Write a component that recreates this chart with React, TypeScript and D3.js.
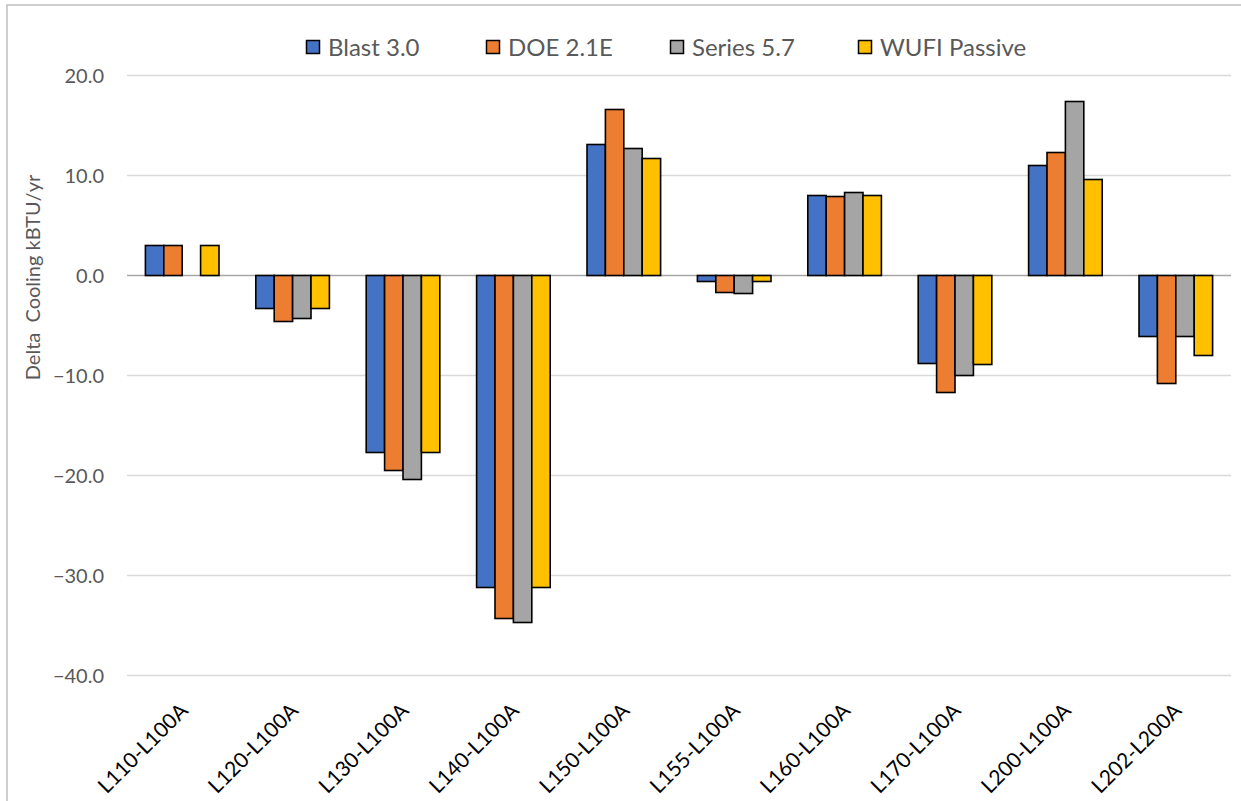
import React from "react";
import * as d3 from "d3";

// Test-case categories (difference cases) on the x axis
const categories = [
  "L110-L100A",
  "L120-L100A",
  "L130-L100A",
  "L140-L100A",
  "L150-L100A",
  "L155-L100A",
  "L160-L100A",
  "L170-L100A",
  "L200-L100A",
  "L202-L200A",
];

const seriesNames = ["Blast 3.0", "DOE 2.1E", "Series 5.7", "WUFI Passive"];
const seriesColors = ["#4472C4", "#ED7D31", "#A5A5A5", "#FFC000"];

// Delta cooling values (kBTU/yr) per program
const blast = [3.0, -3.3, -17.7, -31.2, 13.1, -0.6, 8.0, -8.8, 11.0, -6.1];
const doe = [3.0, -4.6, -19.5, -34.3, 16.6, -1.7, 7.9, -11.7, 12.3, -10.8];
const series57: (number | null)[] = [null, -4.3, -20.4, -34.7, 12.7, -1.8, 8.3, -10.0, 17.4, -6.1];
const wufi = [3.0, -3.3, -17.7, -31.2, 11.7, -0.6, 8.0, -8.9, 9.6, -8.0];

const yTicks = [20, 10, 0, -10, -20, -30, -40];

const W = 1241;
const H = 801;
const FONT = "Lato, 'Open Sans', sans-serif";

export default function App() {
  const allSeries = [blast, doe, series57, wufi];

  const x = d3.scaleBand<string>().domain(categories).range([127, 1231]).paddingInner(0).paddingOuter(0);
  const inner = d3
    .scaleBand<number>()
    .domain(d3.range(seriesNames.length))
    .range([x.bandwidth() / 6, (x.bandwidth() * 5) / 6]);
  const y = d3.scaleLinear().domain([-40, 20]).range([675.5, 75.5]);

  const legendX = [306, 486, 670, 858];

  return (
    <svg
      width={W}
      height={H}
      style={{ position: "absolute", left: 0, top: 0, background: "#fff" }}
      fontFamily={FONT}
    >
      <rect x={7} y={5} width={W + 20} height={H + 20} fill="#fff" stroke="#bfbfbf" strokeWidth={1.5} />

      {/* horizontal gridlines */}
      {yTicks.map((t) => (
        <line
          key={t}
          x1={127}
          x2={1231}
          y1={y(t)}
          y2={y(t)}
          stroke={t === 0 ? "#a6a6a6" : "#d9d9d9"}
          strokeWidth={1.5}
        />
      ))}

      {/* y tick labels */}
      {yTicks.map((t) => (
        <text
          key={"l" + t}
          x={104}
          y={y(t)}
          dy="0.35em"
          textAnchor="end"
          fontSize={20}
          fill="#595959"
        >
          {d3.format(".1f")(t)}
        </text>
      ))}

      {/* y axis title */}
      <text
        transform={`translate(40, ${y(0) + 2}) rotate(-90)`}
        textAnchor="middle"
        fontSize={20}
        fill="#595959"
        style={{ whiteSpace: "pre" }}
      >
        {"Delta  Cooling kBTU/yr"}
      </text>

      {/* bars */}
      {allSeries.map((vals, si) =>
        vals.map((v, ci) => {
          if (v === null) return null;
          const bx = (x(categories[ci]) as number) + (inner(si) as number);
          const y0 = y(0);
          const yv = y(v);
          return (
            <rect
              key={si + "-" + ci}
              x={bx}
              y={Math.min(y0, yv)}
              width={inner.bandwidth()}
              height={Math.abs(yv - y0)}
              fill={seriesColors[si]}
              stroke="#000"
              strokeWidth={1.6}
            />
          );
        })
      )}

      {/* x category labels */}
      {categories.map((c) => {
        const cx = (x(c) as number) + x.bandwidth() / 2;
        return (
          <text
            key={c}
            transform={`translate(${cx + 7}, 712) rotate(-45)`}
            textAnchor="end"
            fontSize={21}
            fill="#000"
          >
            {c}
          </text>
        );
      })}

      {/* legend */}
      {seriesNames.map((n, i) => (
        <g key={n} transform={`translate(${legendX[i]}, 40)`}>
          <rect x={0.5} y={0.5} width={13} height={13} fill={seriesColors[i]} stroke="#000" strokeWidth={1.5} />
          <text x={22} y={7} dy="0.36em" fontSize={24} fill="#595959">
            {n}
          </text>
        </g>
      ))}
    </svg>
  );
}
